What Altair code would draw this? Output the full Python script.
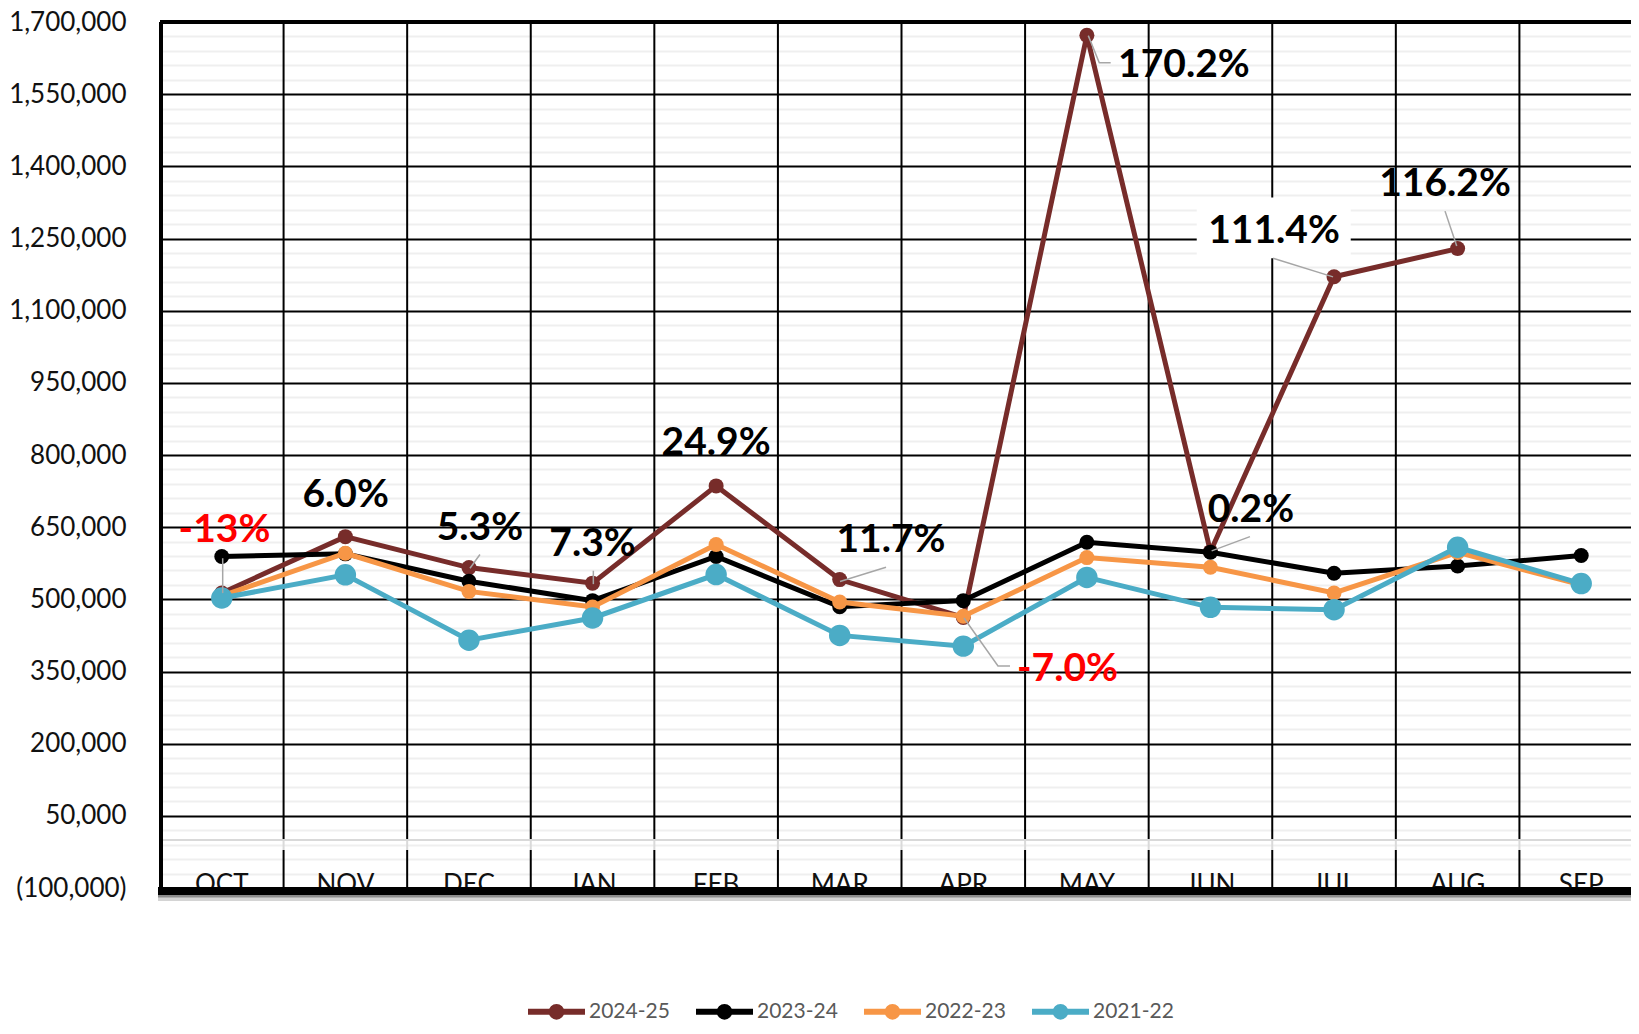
import altair as alt
import pandas as pd

# ---------------- data ----------------
months = ["OCT", "NOV", "DEC", "JAN", "FEB", "MAR", "APR", "MAY", "JUN", "JUL", "AUG", "SEP"]
series = ["2024-25", "2023-24", "2022-23", "2021-22"]
colors = ["#772C2A", "#000000", "#F79646", "#4BACC6"]

v2024_25 = [513000, 630300, 566000, 533600, 735800, 541000, 462500, 1672300, 599100, 1170600, 1229000, None]
v2023_24 = [589000, 594500, 537500, 497300, 589000, 484500, 497300, 618600, 597900, 554200, 569300, 591000]
v2022_23 = [507000, 595800, 516500, 484100, 614000, 494400, 464800, 586800, 566800, 513200, 597500, 530000]
v2021_22 = [502700, 551000, 415000, 461300, 551500, 425000, 402700, 545500, 483400, 478500, 608200, 532700]
series_values = {"2024-25": v2024_25, "2023-24": v2023_24, "2022-23": v2022_23, "2021-22": v2021_22}

major_ticks = [-100000, 50000, 200000, 350000, 500000, 650000, 800000, 950000,
               1100000, 1250000, 1400000, 1550000, 1700000]

# annotation labels (month anchor, text, label baseline value, px offset from band centre)
ann_month = ["OCT", "NOV", "DEC", "JAN", "FEB", "MAR", "APR", "MAY", "JUN", "JUL", "AUG"]
ann_text = ["-13%", "6.0%", "5.3%", "7.3%", "24.9%", "11.7%", "-7.0%", "170.2%", "0.2%", "111.4%", "116.2%"]
ann_value = [620000, 692400, 624100, 591000, 800000, 599300, 330300, 1586200, 661400, 1240700, 1337900]
ann_dx = [2.7, 0.3, 11, 0, 0, 51.3, 104.2, 97, 40.5, -60, -12.6]
ann_neg = [True, False, False, False, False, False, True, False, False, False, False]

# leader lines: id, month anchor, px offset from band centre, value
lead_id = [1, 1, 2, 2, 3, 3, 4, 4, 5, 5, 5, 6, 6, 6, 7, 7, 8, 8, 9, 9]
lead_month = ["OCT", "OCT", "DEC", "DEC", "JAN", "JAN", "MAR", "MAR", "APR", "APR", "APR",
              "MAY", "MAY", "MAY", "JUN", "JUN", "JUL", "JUL", "AUG", "AUG"]
lead_dx = [0.9, 0.9, 11, 1, 0.8, 0.8, 46.3, 0.3, 46.7, 34.7, 0.7, 23.8, 12.4, 1.4, 39.5, 1.2, -61, -1, -12.6, -0.9]
lead_value = [585400, 513000, 593100, 564700, 559400, 531600, 566800, 537200, 361400, 361400, 461300,
              1615200, 1615200, 1671700, 630300, 600700, 1209000, 1170300, 1306900, 1234500]

# ---------------- layout ----------------
W, H = 1471, 866          # visible plot area
RANGE_W = 1483            # x range runs past the right edge (chart is cut off on the right)
BAND = RANGE_W / len(months)
FONT = "Lato"

# ---------------- tables ----------------
rows = []
for s in series:
    for m, v in zip(months, series_values[s]):
        if v is not None:
            rows.append({"month": m, "series": s, "value": v})
df = pd.DataFrame(rows)

ann_df = pd.DataFrame({"month": ann_month, "label": ann_text, "value": ann_value,
                       "dx": [d + BAND / 2 for d in ann_dx], "neg": ann_neg})
lead_df = pd.DataFrame({"id": lead_id, "month": lead_month,
                        "dx": [d + BAND / 2 for d in lead_dx], "value": lead_value})
box_df = pd.DataFrame({"month": ["JUL"], "value": [1272100], "dx": [-60.3 + BAND / 2]})
vgrid_top = pd.DataFrame({"month": months[1:], "dx": 0, "value": 1700000, "value2": 0})
vgrid_gap = pd.DataFrame({"month": months[1:], "dx": 0, "value": 0, "value2": -21000})
vgrid_bot = pd.DataFrame({"month": months[1:], "dx": 0, "value": -21000, "value2": -100000})

minor_ticks = list(range(-100000, 1700001, 30000))
is_major = "(datum.value + 100000) % 150000 == 0"

x_enc = alt.X(
    "month:N",
    scale=alt.Scale(domain=months, paddingInner=0, paddingOuter=0, range=[0, RANGE_W]),
    axis=alt.Axis(title=None, grid=False, domain=False, ticks=False, tickSize=0, labelAngle=0,
                  labelFont=FONT, labelFontSize=26, labelColor="#111111", labelPadding=-17),
)
y_enc = alt.Y(
    "value:Q",
    scale=alt.Scale(domain=[-100000, 1700000], nice=False, zero=False),
    axis=alt.Axis(title=None, values=minor_ticks,
                  labelExpr="(datum.value + 100000) % 150000 == 0 ? (datum.value < 0 ? '(' + format(-datum.value, ',') + ')' : format(datum.value, ',')) : ''",
                  grid=True,
                  gridColor={"condition": {"test": is_major, "value": "#000000"}, "value": "#EFEFEF"},
                  gridWidth=2, domain=False, ticks=False, tickSize=0, labelOverlap=False,
                  labelFlush=False, labelFont=FONT, labelFontSize=26, labelColor="#111111",
                  labelPadding=34),
)
xoff = alt.XOffset("dx:Q", scale=None)

legend_symbol = "M-1,0H1M0.17,0A0.17,0.17,0,1,1,-0.17,0A0.17,0.17,0,1,1,0.17,0"
legend_def = alt.Legend(
    title=None, orient="none", direction="horizontal", legendX=365, legendY=958,
    symbolType=legend_symbol, symbolSize=3249, symbolStrokeWidth=6, symbolOpacity=1,
    labelFont=FONT, labelFontSize=21, labelColor="#595959", labelOffset=1,
    columnPadding=14,
)
color_scale = alt.Scale(domain=series, range=colors)
stroke_enc = alt.Stroke("series:N", scale=color_scale, legend=legend_def)
fill_enc = alt.Fill("series:N", scale=color_scale, legend=legend_def)

layers = []

# vertical grid lines at month boundaries (above the faint minor grid)
layers.append(alt.Chart(vgrid_top).mark_rule(color="#000000", strokeWidth=2).encode(
    x=x_enc, xOffset=xoff, y=y_enc, y2=alt.Y2("value2:Q")))
layers.append(alt.Chart(vgrid_gap).mark_rule(color="#D9D9D9", strokeWidth=2).encode(
    x=x_enc, xOffset=xoff, y=y_enc, y2=alt.Y2("value2:Q")))
layers.append(alt.Chart(vgrid_bot).mark_rule(color="#000000", strokeWidth=2).encode(
    x=x_enc, xOffset=xoff, y=y_enc, y2=alt.Y2("value2:Q")))

# zero (category) axis line
zero_df = pd.DataFrame({"value": [0]})
layers.append(alt.Chart(zero_df).mark_rule(color="#D9D9D9", strokeWidth=2).encode(
    y=y_enc, x=alt.value(0), x2=alt.value(W + 20)))

# white box behind 111.4%
layers.append(alt.Chart(box_df).mark_point(
    shape="M-1,-0.396H1V0.396H-1Z", size=154 * 154, filled=True, fill="white", opacity=1,
    strokeWidth=0).encode(x=x_enc, xOffset=xoff, y=y_enc))

base = alt.Chart(df)
marker_sizes = {"2024-25": 225, "2023-24": 225, "2022-23": 225, "2021-22": 460}
for s in series:
    sub = base.transform_filter(alt.datum.series == s)
    layers.append(sub.mark_line(strokeWidth=5).encode(x=x_enc, y=y_enc, stroke=stroke_enc))
    layers.append(sub.mark_point(filled=True, opacity=1, size=marker_sizes[s]).encode(
        x=x_enc, y=y_enc, fill=fill_enc))

# leader lines
layers.append(alt.Chart(lead_df).mark_line(color="#A6A6A6", strokeWidth=1.5).encode(
    x=x_enc, xOffset=xoff, y=y_enc, detail="id:N"))

# annotation texts
for neg, col in [(False, "#000000"), (True, "#FF0000")]:
    layers.append(alt.Chart(ann_df).transform_filter(alt.datum.neg == neg).mark_text(
        font=FONT, fontSize=39, fontWeight="bold", color=col, align="center",
        baseline="alphabetic").encode(x=x_enc, xOffset=xoff, y=y_enc, text="label:N"))

# frame borders
top_df = pd.DataFrame({"value": [1700000]})
layers.append(alt.Chart(top_df).mark_rule(color="#000000", strokeWidth=4).encode(
    y=y_enc, x=alt.value(0), x2=alt.value(W + 20)))
bot_df = pd.DataFrame({"value": [-100000]})
layers.append(alt.Chart(bot_df).mark_rule(color="#D4D4D4", strokeWidth=4, yOffset=11).encode(
    y=y_enc, x=alt.value(-2), x2=alt.value(W + 20)))
layers.append(alt.Chart(bot_df).mark_rule(color="#8C8C8C", strokeWidth=3, yOffset=8).encode(
    y=y_enc, x=alt.value(-2), x2=alt.value(W + 20)))
layers.append(alt.Chart(bot_df).mark_rule(color="#000000", strokeWidth=8, yOffset=3).encode(
    y=y_enc, x=alt.value(-2), x2=alt.value(W + 20)))
left_df = pd.DataFrame({"value": [1700000], "value2": [-100000]})
layers.append(alt.Chart(left_df).mark_rule(color="#000000", strokeWidth=4).encode(
    y=y_enc, y2=alt.Y2("value2:Q"), x=alt.value(1)))

chart = alt.layer(*layers).properties(
    width=W, height=H,
    autosize=alt.AutoSizeParams(type="none"),
    padding={"left": 152, "top": 14, "right": 0, "bottom": 138},
    background="white",
).configure_view(stroke=None)

chart.save("out.html", embed_options={"renderer": "svg", "actions": False})
